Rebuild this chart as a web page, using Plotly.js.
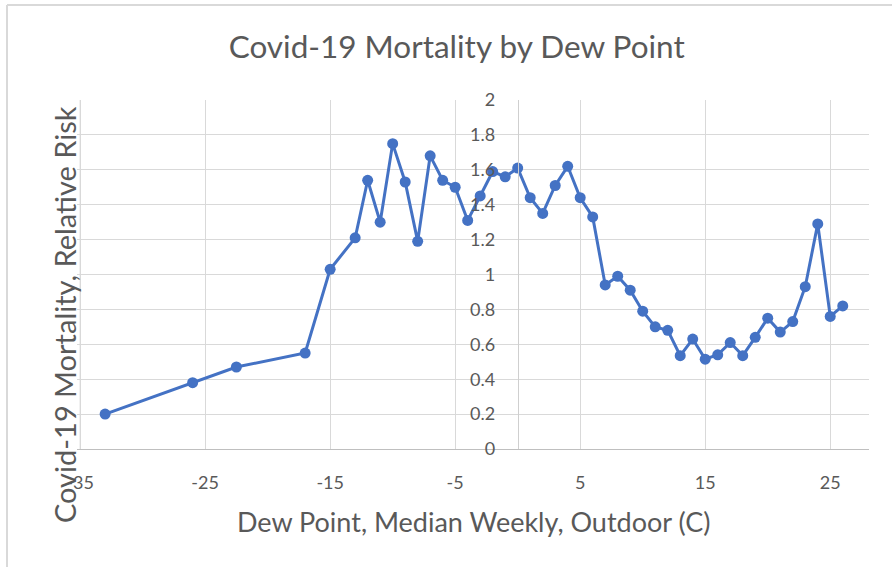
<!DOCTYPE html>
<html>
<head>
<meta charset="utf-8">
<script src="https://cdn.plot.ly/plotly-3.0.1.min.js"></script>
<style>
  html, body { margin: 0; padding: 0; background: #ffffff; }
  #chart { width: 892px; height: 567px; }
</style>
</head>
<body>
<div id="chart"></div>
<script>
// Data
const dewPoint = [-33, -26, -22.5, -17, -15, -13, -12, -11, -10, -9, -8, -7, -6, -5, -4, -3, -2, -1, 0,
                  1, 2, 3, 4, 5, 6, 7, 8, 9, 10, 11, 12, 13, 14, 15, 16, 17, 18, 19, 20, 21, 22, 23, 24, 25, 26];
const relativeRisk = [0.20, 0.38, 0.47, 0.55, 1.03, 1.21, 1.54, 1.30, 1.75, 1.53, 1.19, 1.68, 1.54, 1.50, 1.31, 1.45, 1.59, 1.56, 1.61,
                      1.44, 1.35, 1.51, 1.62, 1.44, 1.33, 0.94, 0.99, 0.91, 0.79, 0.70, 0.68, 0.535, 0.63, 0.515, 0.54, 0.61, 0.535, 0.64, 0.75, 0.67, 0.73, 0.93, 1.29, 0.76, 0.82];
const xTickValues = [-35, -25, -15, -5, 5, 15, 25];
const yTickValues = [0, 0.2, 0.4, 0.6, 0.8, 1, 1.2, 1.4, 1.6, 1.8, 2];
const xRange = [-35.25, 28.1];
const yRange = [0, 2];

const titleText = 'Covid-19 Mortality by Dew Point';
const xTitleText = 'Dew Point, Median Weekly, Outdoor (C)';
const yTitleText = 'Covid-19 Mortality, Relative Risk';

const font = 'Lato, "Open Sans", sans-serif';
const textColor = '#595959';
const gridColor = '#d9d9d9';

const W = 892, H = 567;
const M = { l: 77, r: 23, t: 100, b: 118 };
const PW = W - M.l - M.r, PH = H - M.t - M.b;
const px = v => (v - M.l) / PW;          // page x -> paper fraction
const py = v => (H - M.b - v) / PH;      // page y -> paper fraction

const yAxisPos = (0 - xRange[0]) / (xRange[1] - xRange[0]);

const trace = {
  x: dewPoint,
  y: relativeRisk,
  type: 'scatter',
  mode: 'lines+markers',
  line: { color: '#4472C4', width: 3 },
  marker: { color: '#4472C4', size: 11 },
  hoverinfo: 'x+y'
};

const layout = {
  width: W,
  height: H,
  margin: M,
  paper_bgcolor: '#ffffff',
  plot_bgcolor: '#ffffff',
  showlegend: false,
  font: { family: font, color: textColor, size: 18 },
  title: {
    text: titleText,
    font: { family: font, size: 31.5, color: textColor },
    x: 0.512, xanchor: 'center',
    y: 0.917, yanchor: 'middle'
  },
  xaxis: {
    range: xRange,
    tickmode: 'array',
    tickvals: xTickValues,
    ticktext: xTickValues.map(String),
    showgrid: true,
    gridcolor: gridColor,
    gridwidth: 1,
    zeroline: false,
    showline: true,
    linecolor: '#bfbfbf',
    linewidth: 1,
    ticks: 'outside',
    ticklen: 17,
    tickcolor: 'rgba(0,0,0,0)',
    tickfont: { family: font, size: 18, color: textColor },
    fixedrange: true
  },
  yaxis: {
    range: yRange,
    anchor: 'free',
    position: yAxisPos,
    tickmode: 'array',
    tickvals: yTickValues,
    ticktext: yTickValues.map(String),
    showgrid: true,
    gridcolor: gridColor,
    gridwidth: 1,
    zeroline: false,
    showline: true,
    linecolor: '#cfcfcf',
    linewidth: 1,
    ticks: 'outside',
    ticklen: 19,
    tickcolor: 'rgba(0,0,0,0)',
    tickfont: { family: font, size: 18, color: textColor },
    fixedrange: true
  },
  annotations: [
    {
      text: xTitleText,
      xref: 'paper', yref: 'paper',
      x: px(473), y: py(521),
      xanchor: 'center', yanchor: 'middle',
      showarrow: false,
      font: { family: font, size: 27, color: textColor }
    },
    {
      text: yTitleText,
      xref: 'paper', yref: 'paper',
      x: px(64), y: py(315),
      xanchor: 'center', yanchor: 'middle',
      textangle: -90,
      showarrow: false,
      font: { family: font, size: 29, color: textColor }
    }
  ],
  shapes: [
    // left-most vertical gridline (at the first x tick)
    { type: 'line', xref: 'x', yref: 'paper', layer: 'below',
      x0: xTickValues[0], x1: xTickValues[0], y0: 0, y1: 1,
      line: { color: gridColor, width: 1 } },
    // chart-area border
    { type: 'line', xref: 'paper', yref: 'paper',
      x0: px(7), x1: px(W), y0: py(5), y1: py(5),
      line: { color: '#d9d9d9', width: 2 } },
    { type: 'line', xref: 'paper', yref: 'paper',
      x0: px(7), x1: px(7), y0: py(5), y1: py(H),
      line: { color: '#d9d9d9', width: 2 } }
  ]
};

Plotly.newPlot('chart', [trace], layout, { displayModeBar: false, staticPlot: true });
</script>
</body>
</html>
